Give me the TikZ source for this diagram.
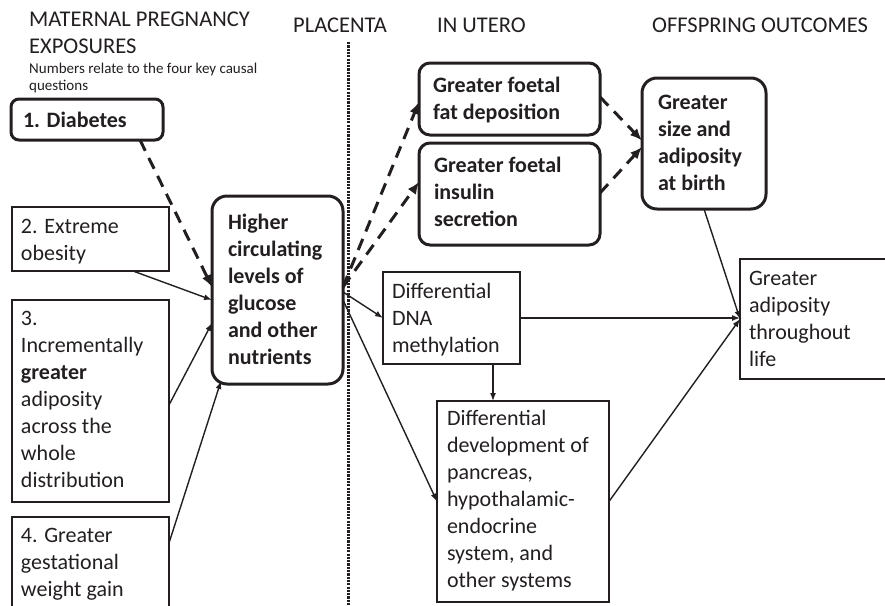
\documentclass[tikz,border=0pt]{standalone}
\usepackage{fontspec}
\setmainfont{Carlito}
\usetikzlibrary{arrows.meta}
\definecolor{ink}{HTML}{231F20}
\newcommand\bxt[5]{\parbox[c][#2pt][t]{#1pt}{\raggedright\setlength\leftskip{#3pt}\fontsize{22}{27}\selectfont\rule{0pt}{#4pt}#5\par}}
\tikzset{
  thinbox/.style={draw=ink, line width=1.4pt, inner sep=0pt, outer sep=0pt, anchor=north west, text=ink},
  thickbox/.style={draw=ink, line width=3pt, inner sep=0pt, outer sep=0pt, anchor=north west, text=ink, font=\bfseries},
  hdr/.style={anchor=base west, inner sep=0pt, text=ink},
  conn/.style={draw=ink, line width=1.4pt, -{Latex[length=8pt,width=6pt]}},
  dconn/.style={draw=ink, line width=3pt, dash pattern=on 12pt off 8pt, -{Latex[length=12pt,width=10pt]}},
}
\begin{document}
\begin{tikzpicture}[x=1pt,y=-1pt]
\useasboundingbox (0,0) rectangle (885,605);
\clip (0,0) rectangle (885,605);
\fill[white] (0,0) rectangle (885,605);

% headers
\node[hdr] (h1) at (29,26) {\parbox[t]{300pt}{\fontsize{22.5}{27}\selectfont MATERNAL PREGNANCY\\EXPOSURES}};
\node[hdr] (note) at (29,73) {\parbox[t]{300pt}{\fontsize{15}{17}\selectfont Numbers relate to the four key causal\\questions}};
\node[hdr] (h2) at (293,32) {\fontsize{22.5}{27}\selectfont PLACENTA};
\node[hdr] (h3) at (437,32) {\fontsize{22.5}{27}\selectfont IN UTERO};
\node[hdr] (h4) at (652,32) {\fontsize{22.5}{27}\selectfont OFFSPRING OUTCOMES};

% placenta divider
\coordinate (ptop) at (348,42);
\coordinate (pbot) at (348,615);
\draw[ink, line width=3pt, dash pattern=on 2.2pt off 1.1pt] (ptop) -- (pbot);

% boxes
\node[thickbox, rounded corners=8pt] (diab) at (11,99) {\bxt{152}{41}{12}{28}{1. Diabetes}};
\node[thinbox] (obes) at (12,207) {\bxt{157}{64}{9}{26}{2. Extreme\\obesity}};
\node[thinbox] (incr) at (12,300) {\bxt{157}{202}{9}{25}{3.\\Incrementally\\\textbf{greater}\\adiposity\\across the\\whole\\distribution}};
\node[thinbox] (gwg) at (12,517) {\bxt{157}{108}{9}{25}{4. Greater\\gestational\\weight gain}};
\node[thickbox, rounded corners=15pt] (high) at (212,196) {\bxt{131}{188}{16}{33}{Higher\\circulating\\levels of\\glucose\\and other\\nutrients}};
\node[thickbox, rounded corners=11pt] (fat) at (419,63) {\bxt{181}{72}{14}{29}{Greater foetal\\fat deposition}};
\node[thickbox, rounded corners=11pt] (ins) at (419,143) {\bxt{181}{102}{15}{29}{Greater foetal\\insulin\\secretion}};
\node[thickbox, rounded corners=15pt] (size) at (642,78) {\bxt{124}{131}{16}{31}{Greater\\size and\\adiposity\\at birth}};
\node[thinbox] (dna) at (383,272) {\bxt{137}{92}{9}{26}{Differential\\DNA\\methylation}};
\node[thinbox] (dev) at (437,401) {\bxt{172}{201}{10}{24}{Differential\\development of\\pancreas,\\hypothalamic-\\endocrine\\system, and\\other systems}};
\node[thinbox] (life) at (740,259) {\bxt{160}{120}{9}{26}{Greater\\adiposity\\throughout\\life}};

% connectors into central box
\draw[dconn] ([xshift=53pt]diab.south) -- ([yshift=3pt]high.west);
\draw[conn] ([xshift=42.5pt]obes.south) -- ([yshift=-10pt]high.west);
\draw[conn] ([yshift=-4pt]incr.east) -- ([yshift=-33pt]high.west);
\draw[conn] ([yshift=28pt]gwg.east) -- ([xshift=9pt,yshift=3pt]high.south west);

% from central box
\draw[dconn] ([yshift=3pt]high.east) -- ([yshift=-3pt]fat.west);
\draw[dconn] ([yshift=3pt]high.east) -- ([yshift=12pt]ins.west);
\draw[conn] ([yshift=-2pt]high.east) -- (dna.west);
\draw[conn] ([yshift=-10pt]high.east) -- (dev.west);

% in utero to outcomes
\draw[dconn] ([yshift=2pt]fat.east) -- ([yshift=3pt]size.west);
\draw[dconn] ([yshift=1pt]ins.east) -- ([yshift=-3.5pt]size.west);
\coordinate (dnab) at ([xshift=41.5pt]dna.south);
\draw[conn] (dnab) -- (dnab |- dev.north);
\draw[conn] (dna.east) -- (dna.east -| life.west);
\draw[conn] (dev.east) -- (life.west);
\draw[conn] (size.south) -- (life.west);
\end{tikzpicture}
\end{document}
